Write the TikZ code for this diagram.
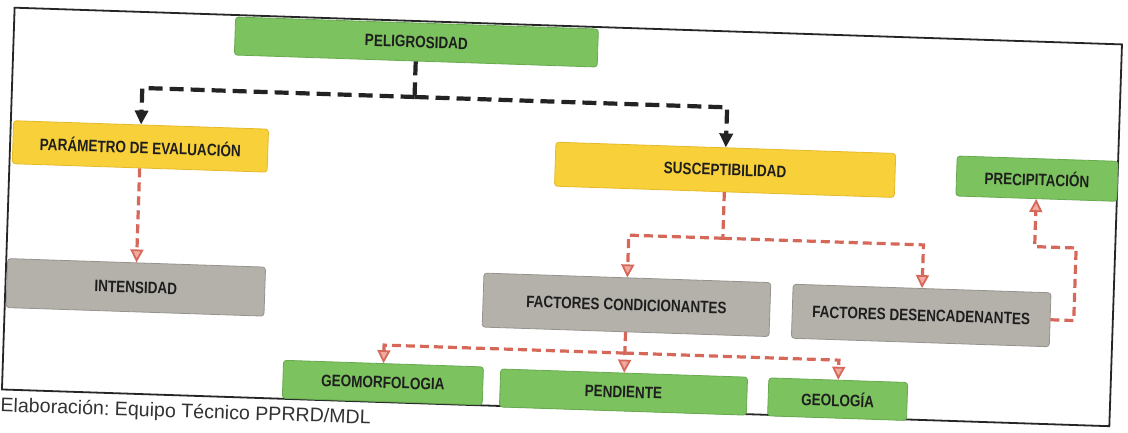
\documentclass[tikz,border=0pt]{standalone}
\usepackage{fontspec}
\setmainfont{Liberation Sans}
\newfontfamily\boxfont[FakeStretch=0.82]{Liberation Sans}
\usetikzlibrary{arrows.meta}
\frenchspacing
\definecolor{gfill}{RGB}{124,194,94}
\definecolor{gline}{RGB}{104,170,80}
\definecolor{yfill}{RGB}{248,208,58}
\definecolor{yline}{RGB}{230,185,40}
\definecolor{kfill}{RGB}{180,177,171}
\definecolor{kline}{RGB}{150,147,142}
\definecolor{rline}{RGB}{214,104,90}
\definecolor{rtip}{RGB}{240,170,160}
\definecolor{bline}{RGB}{35,35,35}
\definecolor{txt}{RGB}{30,30,30}
\tikzset{
  nbox/.style={rounded corners=3pt, inner sep=0pt, line width=0.8pt, text=txt,
    font=\boxfont\bfseries\fontsize{16.5}{18}\selectfont},
  gbox/.style={nbox, fill=gfill, draw=gline},
  ybox/.style={nbox, fill=yfill, draw=yline},
  kbox/.style={nbox, fill=kfill, draw=kline},
  blk/.style={draw=bline, line width=4.2pt, dash pattern=on 14pt off 7pt},
  blkarrow/.style={blk, -{Triangle[length=14pt,width=13pt]}},
  red1/.style={draw=rline, line width=3.2pt, dash pattern=on 9pt off 5pt},
  redarrow/.style={red1, -{Triangle[length=13pt,width=13pt,line width=1.8pt,fill=rtip]}},
  framel/.style={draw=black!85, line width=1.8pt},
}
\begin{document}
\begin{tikzpicture}[x=1pt,y=-1pt]
\useasboundingbox (0,0) rectangle (1128,432);
\fill[white] (0,0) rectangle (1128,432);
\begin{scope}[rotate around={-1.9:(564,216)}, transform shape]
  \draw[framel] (8,26) rectangle (1116,408);
  % nodes
  \node[gbox, minimum width=363pt, minimum height=38pt] (PEL) at (410.7,47) {PELIGROSIDAD};
  \node[ybox, minimum width=255pt, minimum height=43pt] (PAR) at (138.3,160.5) {PARÁMETRO DE EVALUACIÓN};
  \node[ybox, minimum width=340pt, minimum height=44pt] (SUS) at (723.5,164.5) {SUSCEPTIBILIDAD};
  \node[gbox, minimum width=161pt, minimum height=40pt] (PRE) at (1035.5,163) {PRECIPITACIÓN};
  \node[kbox, minimum width=258pt, minimum height=49pt] (INT) at (138.4,301.5) {INTENSIDAD};
  \node[kbox, minimum width=287pt, minimum height=54pt] (FCO) at (629.4,302.7) {FACTORES CONDICIONANTES};
  \node[kbox, minimum width=258pt, minimum height=54pt] (FDE) at (924.3,303.6) {FACTORES DESENCADENANTES};
  \node[gbox, minimum width=200pt, minimum height=38pt] (GEM) at (388.5,388.5) {GEOMORFOLOGIA};
  \node[gbox, minimum width=247pt, minimum height=38pt] (PEN) at (629.3,390) {PENDIENTE};
  \node[gbox, minimum width=139pt, minimum height=38pt] (GEL) at (843.6,390) {GEOLOGÍA};
  % junction coordinates
  \coordinate (bj) at (410.7,102);
  \coordinate (sj) at (723.5,233);
  \coordinate (fj) at (629.4,351);
  \coordinate (rc) at (1077,231);
  % black connectors
  \draw[blk] (PEL.south) -- (bj);
  \draw[blkarrow] (bj) -| (PAR.north);
  \draw[blkarrow] (bj) -| (SUS.north);
  % red connectors
  \draw[redarrow] (PAR.south) -- (PAR.south |- INT.north);
  \draw[red1] (SUS.south) -- (sj);
  \draw[redarrow] (sj) -| (FCO.north);
  \draw[redarrow] (sj) -| (FDE.north);
  \draw[redarrow] (FDE.east) -| (rc) -| (PRE.south);
  \draw[redarrow] (FCO.south) -- (FCO.south |- PEN.north);
  \draw[redarrow] (fj) -| (GEM.north);
  \draw[redarrow] (fj) -| (GEL.north);
  % caption
  \node[anchor=west, inner sep=0pt, text=black!80, font=\fontsize{19.6}{22}\selectfont] (cap) at (7,425) {Elaboración: Equipo Técnico PPRRD/MDL};
\end{scope}
\end{tikzpicture}
\end{document}
